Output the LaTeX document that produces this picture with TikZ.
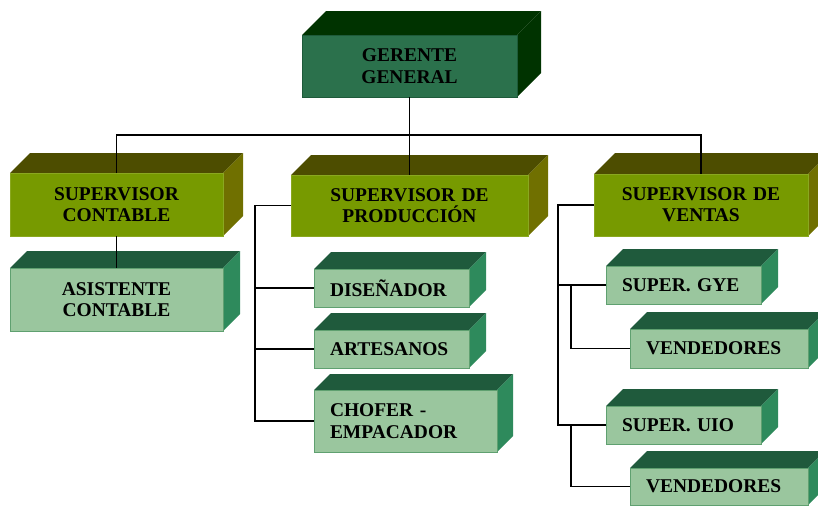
\documentclass[tikz,border=0pt]{standalone}
\usepackage{fontspec}
\setmainfont{Liberation Serif}
\definecolor{dkfront}{HTML}{2B714C}
\definecolor{dktop}{HTML}{003300}
\definecolor{dkside}{HTML}{003300}
\definecolor{olfront}{HTML}{779A00}
\definecolor{oltop}{HTML}{4D4D00}
\definecolor{olside}{HTML}{707000}
\definecolor{ltfront}{HTML}{9AC69E}
\definecolor{lttop}{HTML}{1F5A3C}
\definecolor{ltside}{HTML}{2E8A5C}
\definecolor{ltedge}{HTML}{5FA070}
\definecolor{oledge}{HTML}{8AA820}
\definecolor{dkedge}{HTML}{1E5A3A}
\tikzset{
  dkfrontst/.style={fill=dkfront,draw=dkedge},
  dktopst/.style={fill=dktop},
  dksidest/.style={fill=dkside},
  olfrontst/.style={fill=olfront,draw=oledge},
  oltopst/.style={fill=oltop},
  olsidest/.style={fill=olside},
  ltfrontst/.style={fill=ltfront,draw=ltedge},
  lttopst/.style={fill=lttop},
  ltsidest/.style={fill=ltside},
  boxtext/.style={font=\fontsize{14.6}{16}\selectfont\bfseries, text=black,
    inner xsep=12pt, inner ysep=0pt, outer sep=0pt, line width=0.6pt},
  conn/.style={draw=black, line width=0.9pt},
}
% #1 name, #2 x1, #3 y1, #4 x2, #5 y2, #6 depth, #7 colour prefix, #8 align, #9 text
\newcommand\mkcube[9]{%
  \fill[#7topst] ({#2},{#3}) -- ++(#6,-#6) -- ({#4+#6},{#3-#6}) -- ({#4},{#3}) -- cycle;
  \fill[#7sidest] ({#4},{#3}) -- ++(#6,-#6) -- ({#4+#6},{#5-#6}) -- ({#4},{#5}) -- cycle;
  \node[boxtext, #7frontst, align=#8, text width={(#4-#2)*0.75pt-24pt},
        minimum height={(#5-#3)*0.75pt}]
        (#1) at ({(#2+#4)/2},{(#3+#5)/2}) {#9};
}
\begin{document}
\begin{tikzpicture}[x=0.75pt,y=-0.75pt]
\useasboundingbox (0,0) rectangle (818,507);
\clip (0,0) rectangle (818,507);
\mkcube{ger}{302}{35}{517}{97}{24}{dk}{center}{GERENTE\\GENERAL}
\mkcube{scont}{10}{173}{223}{236}{20}{ol}{center}{SUPERVISOR\\CONTABLE}
\mkcube{sprod}{291}{175}{528}{236}{20}{ol}{center}{SUPERVISOR DE\\PRODUCCIÓN}
\mkcube{sven}{594}{174}{808}{236}{21}{ol}{center}{SUPERVISOR DE\\VENTAS}
\mkcube{asist}{10}{268}{223}{331}{17}{lt}{center}{ASISTENTE\\CONTABLE}
\mkcube{dis}{314}{269}{469}{307}{17}{lt}{left}{DISEÑADOR}
\mkcube{art}{314}{330}{469}{368}{17}{lt}{left}{ARTESANOS}
\mkcube{chof}{314}{390}{497}{452}{16}{lt}{left}{CHOFER -\\EMPACADOR}
\mkcube{gye}{606}{266}{761}{304}{17}{lt}{left}{SUPER. GYE}
\mkcube{vA}{630}{329}{808}{368}{17}{lt}{left}{VENDEDORES}
\mkcube{uio}{606}{406}{761}{444}{17}{lt}{left}{SUPER. UIO}
\mkcube{vB}{630}{468}{808}{505}{17}{lt}{left}{VENDEDORES}
% connectors
\coordinate (bus) at (409,135);
\coordinate (pl) at (255,0);
\coordinate (sl) at (558,0);
\coordinate (sli) at (571,0);
\draw[conn] (ger.south) -- (sprod.north);
\draw[conn] (scont.north) |- (bus) -| (sven.north);
\draw[conn] (scont.south) -- (asist.north);
\draw[conn] (sprod.west) -| (pl |- chof.west) -- (chof.west);
\draw[conn] (pl |- dis.west) -- (dis.west);
\draw[conn] (pl |- art.west) -- (art.west);
\draw[conn] (sven.west) -| (sl |- uio.west) -- (uio.west);
\draw[conn] (sl |- gye.west) -- (gye.west);
\draw[conn] (sli |- gye.west) |- (vA.west);
\draw[conn] (sli |- uio.west) |- (vB.west);
\end{tikzpicture}
\end{document}
